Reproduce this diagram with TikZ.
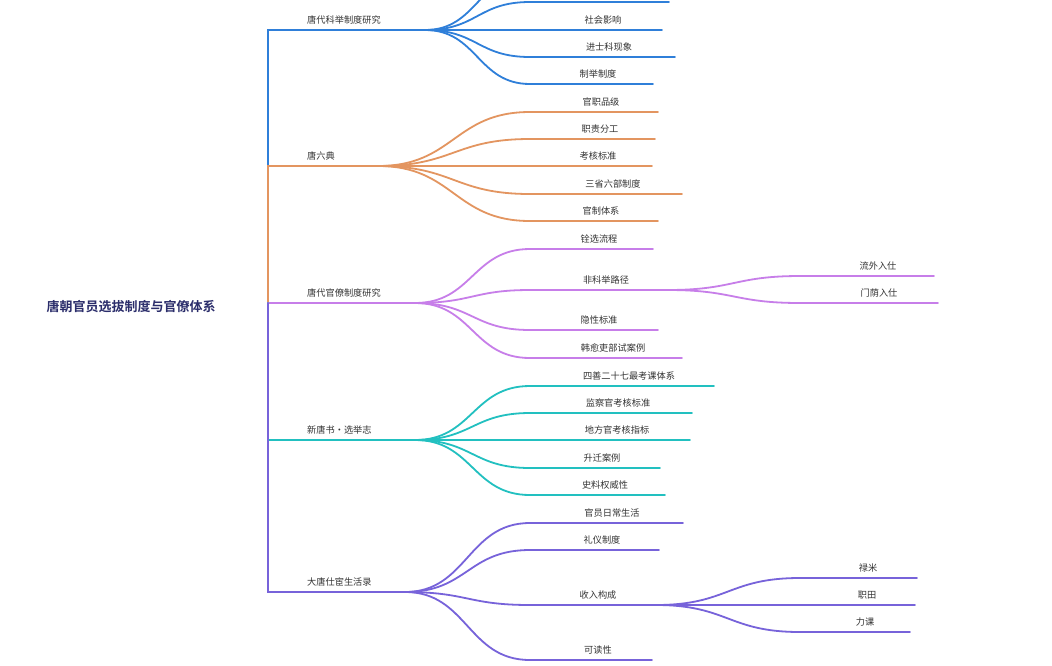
\documentclass[tikz,border=0pt]{standalone}
\usepackage{fontspec}
\setmainfont{Noto Sans CJK SC}[BoldFont={Noto Sans CJK SC Bold}]
\usetikzlibrary{calc}
\definecolor{cA}{HTML}{2F7FD9}
\definecolor{cB}{HTML}{E39560}
\definecolor{cC}{HTML}{C77EE9}
\definecolor{cD}{HTML}{22C0C0}
\definecolor{cE}{HTML}{7763DA}
\definecolor{rootc}{HTML}{2B2D6B}
\definecolor{txt}{HTML}{333333}
\tikzset{
  lbl/.style={font=\fontsize{9.2}{10}\selectfont, text=txt, inner sep=1pt},
  blbl/.style={lbl, anchor=south west},
  clbl/.style={lbl, anchor=south},
  ln/.style={line width=1.8pt, line cap=round},
}
% #1 colour, #2 hub coordinate, #3 x where curve ends, #4 y, #5 end x, #6 name, #7 label, #8 label x
\newcommand\mmkid[8]{%
  \coordinate (#6-s) at (#3,#4);
  \coordinate (#6-e) at (#5,#4);
  \coordinate (#6-m) at ($(#2)!0.5!(#6-s)$);
  \draw[ln,#1] (#2) .. controls (#6-m |- #2) and (#6-m |- #6-s) .. (#6-s) -- (#6-e);
  \node[clbl] (#6) at (#8,#4-5) {#7};
}
\begin{document}
\begin{tikzpicture}[x=1pt,y=-1pt]
\useasboundingbox (0,0) rectangle (1052,665);
\clip (0,0) rectangle (1052,665);
\fill[white] (0,0) rectangle (1052,665);

\node[font=\bfseries\fontsize{13}{15}\selectfont, text=rootc, inner sep=1pt] (root) at (131,307) {唐朝官员选拔制度与官僚体系};
\coordinate (r) at (268,303);

% branch hubs
\coordinate (h1) at (425,30);
\coordinate (h2) at (378,166);
\coordinate (h3) at (415,303);
\coordinate (h4) at (415,440);
\coordinate (h5) at (405,592);

\draw[ln,cA] (r) |- (h1);
\draw[ln,cB] (r) |- (h2);
\draw[ln,cC] (r) -- (h3);
\draw[ln,cD] (r) |- (h4);
\draw[ln,cE] (r) |- (h5);

\node[blbl] (b1) at (306,25) {唐代科举制度研究};
\node[blbl] (b2) at (306,161) {唐六典};
\node[blbl] (b3) at (306,298) {唐代官僚制度研究};
\node[blbl] (b4) at (306,435) {新唐书・选举志};
\node[blbl] (b5) at (306,587) {大唐仕宦生活录};

% branch 1
\mmkid{cA}{h1}{530}{-25}{660}{a0}{}{600}
\mmkid{cA}{h1}{530}{2}{669}{a1}{}{600}
\mmkid{cA}{h1}{530}{30}{662}{a2}{社会影响}{603}
\mmkid{cA}{h1}{530}{57}{675}{a3}{进士科现象}{609}
\mmkid{cA}{h1}{530}{84}{653}{a4}{制举制度}{598}

% branch 2
\mmkid{cB}{h2}{530}{112}{658}{o1}{官职品级}{601}
\mmkid{cB}{h2}{530}{139}{655}{o2}{职责分工}{600}
\mmkid{cB}{h2}{530}{166}{652}{o3}{考核标准}{598}
\mmkid{cB}{h2}{530}{194}{682}{o4}{三省六部制度}{613}
\mmkid{cB}{h2}{530}{221}{658}{o5}{官制体系}{601}

% branch 3
\mmkid{cC}{h3}{530}{249}{653}{p1}{铨选流程}{599}
\mmkid{cC}{h3}{530}{290}{668}{p2}{非科举路径}{606}
\mmkid{cC}{h3}{530}{330}{658}{p3}{隐性标准}{599}
\mmkid{cC}{h3}{530}{358}{682}{p4}{韩愈吏部试案例}{613}
\mmkid{cC}{p2-e}{800}{276}{934}{p21}{流外入仕}{878}
\mmkid{cC}{p2-e}{800}{303}{938}{p22}{门荫入仕}{879}

% branch 4
\mmkid{cD}{h4}{530}{386}{714}{t1}{四善二十七最考课体系}{629}
\mmkid{cD}{h4}{530}{413}{692}{t2}{监察官考核标准}{618}
\mmkid{cD}{h4}{530}{440}{690}{t3}{地方官考核指标}{617}
\mmkid{cD}{h4}{530}{468}{660}{t4}{升迁案例}{602}
\mmkid{cD}{h4}{530}{495}{665}{t5}{史料权威性}{605}

% branch 5
\mmkid{cE}{h5}{530}{523}{683}{v1}{官员日常生活}{612}
\mmkid{cE}{h5}{530}{550}{659}{v2}{礼仪制度}{602}
\mmkid{cE}{h5}{530}{605}{656}{v3}{收入构成}{598}
\mmkid{cE}{h5}{530}{660}{652}{v4}{可读性}{598}
\mmkid{cE}{v3-e}{800}{578}{917}{v31}{禄米}{868}
\mmkid{cE}{v3-e}{800}{605}{915}{v32}{职田}{867}
\mmkid{cE}{v3-e}{800}{632}{910}{v33}{力课}{865}
\end{tikzpicture}
\end{document}
